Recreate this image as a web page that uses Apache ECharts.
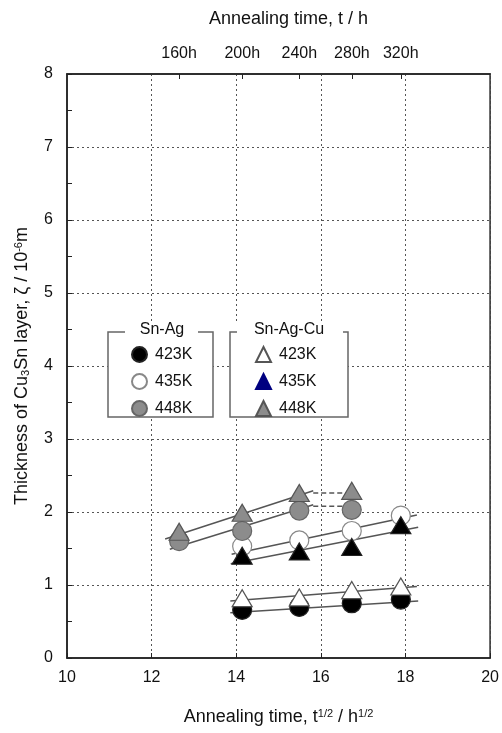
<!DOCTYPE html>
<html>
<head>
<meta charset="utf-8">
<script src="https://cdn.jsdelivr.net/npm/echarts@6/dist/echarts.min.js"></script>
<style>
html,body{margin:0;padding:0;background:#fff;}
#chart{width:502px;height:733px;}
</style>
</head>
<body>
<div id="chart"></div>
<script>
// ---- data ----
const xTicks = [10, 12, 14, 16, 18, 20];
const topHours = [160, 200, 240, 280, 320];
const sqrtTime = [12.65, 14.14, 15.49, 16.73, 17.89];

const snAg423 = [null, 0.66, 0.70, 0.75, 0.80];
const snAg435 = [null, 1.53, 1.61, 1.74, 1.95];
const snAg448 = [1.60, 1.74, 2.02, 2.03, null];
const snAgCu423 = [null, 0.82, 0.83, 0.93, 0.98];
const snAgCu435 = [null, 1.40, 1.46, 1.52, 1.82];
const snAgCu448 = [1.73, 1.99, 2.26, 2.29, null];

const fitSnAg423 = [[13.86, 0.62], [18.30, 0.78]];
const fitSnAg435 = [[13.89, 1.42], [18.27, 1.96]];
const fitSnAg448 = [[12.43, 1.49], [15.82, 2.10]];
const fitSnAgCu423 = [[13.86, 0.78], [18.27, 0.98]];
const fitSnAgCu435 = [[13.87, 1.29], [18.30, 1.79]];
const fitSnAgCu448 = [[12.32, 1.63], [15.82, 2.29]];
const dashSnAg448 = [[15.82, 2.08], [16.62, 2.08]];
const dashSnAgCu448 = [[15.82, 2.26], [16.62, 2.26]];

const legendSnAg = ['Sn-Ag 423K', 'Sn-Ag 435K', 'Sn-Ag 448K'];
const legendSnAgCu = ['Sn-Ag-Cu 423K', 'Sn-Ag-Cu 435K', 'Sn-Ag-Cu 448K'];

// ---- build ----
function pts(vals) {
  const out = [];
  vals.forEach((v, i) => { if (v !== null) out.push([sqrtTime[i], v]); });
  return out;
}
const FONT = 'Liberation Sans';
const gridLine = { show: true, lineStyle: { color: '#555', type: [2, 3], width: 1 } };

function fitLine(data, dashed) {
  return {
    type: 'line', data: data, symbol: 'none', silent: true, z: 1,
    lineStyle: { color: '#555', width: 1.5, type: dashed ? [5, 3] : 'solid' }
  };
}
function marker(name, vals, symbol, fill, border) {
  return {
    type: 'scatter', name: name, data: pts(vals), symbol: symbol,
    symbolSize: symbol === 'circle' ? 19 : [20, 17], z: 3,
    itemStyle: { color: fill, borderColor: border, borderWidth: 1.2, opacity: 1 }
  };
}

const chart = echarts.init(document.getElementById('chart'), null, { renderer: 'canvas' });
const legendCommon = {
  orient: 'vertical', itemWidth: 15, itemHeight: 15, itemGap: 10, padding: 0, z: 10,
  textStyle: { fontFamily: FONT, fontSize: 16, color: '#111', lineHeight: 15, padding: [0, 0, 0, 3] },
  formatter: n => n.split(' ')[1], selectedMode: false
};

chart.setOption({
  animation: false,
  backgroundColor: '#fff',
  grid: { left: 67, right: 11, top: 74, bottom: 75, show: true, borderColor: '#222', borderWidth: 1.5, backgroundColor: 'transparent' },
  xAxis: [{
    type: 'value', min: 10, max: 20, interval: 2, position: 'bottom',
    axisLine: { show: true, lineStyle: { color: '#222', width: 1.5 } },
    axisTick: { show: true, inside: true, length: 5, lineStyle: { color: '#222' } },
    axisLabel: { fontFamily: FONT, fontSize: 16, color: '#111', margin: 12, formatter: v => xTicks.includes(v) ? String(v) : '' },
    splitLine: gridLine,
    name: 'Annealing time, t{sup|1/2} / h{sup|1/2}', nameLocation: 'middle', nameGap: 50,
    nameTextStyle: { fontFamily: FONT, fontSize: 18, color: '#111',
      rich: { sup: { fontFamily: FONT, fontSize: 11, color: '#111', verticalAlign: 'top' } } }
  }, {
    type: 'value', min: 10, max: 20, position: 'top',
    axisLine: { show: true, lineStyle: { color: '#222', width: 1.5 } },
    axisTick: { show: true, inside: true, length: 5, customValues: topHours.map(h => Math.sqrt(h)), lineStyle: { color: '#222' } },
    axisLabel: { fontFamily: FONT, fontSize: 16, color: '#111', margin: 12,
      customValues: topHours.map(h => Math.sqrt(h)), formatter: v => Math.round(v * v) + 'h' },
    splitLine: { show: false },
    name: 'Annealing time, t / h', nameLocation: 'middle', nameGap: 46,
    nameTextStyle: { fontFamily: FONT, fontSize: 18, color: '#111', padding: [0, 0, 0, 20] }
  }],
  yAxis: [{
    type: 'value', min: 0, max: 8, interval: 1,
    axisLine: { show: true, lineStyle: { color: '#222', width: 1.5 } },
    axisTick: { show: true, inside: true, length: 5, lineStyle: { color: '#222' } },
    minorTick: { show: true, splitNumber: 2, length: 5, lineStyle: { color: '#222' } },
    axisLabel: { fontFamily: FONT, fontSize: 16, color: '#111', margin: 14 },
    splitLine: gridLine,
    name: 'Thickness of Cu{sub|3}Sn layer, ζ / 10{sup|-6}m', nameLocation: 'middle', nameGap: 36,
    nameTextStyle: { fontFamily: FONT, fontSize: 18, color: '#111',
      rich: {
        sup: { fontFamily: FONT, fontSize: 11, color: '#111', verticalAlign: 'top' },
        sub: { fontFamily: FONT, fontSize: 11, color: '#111', verticalAlign: 'bottom' }
      } }
  }],
  legend: [
    Object.assign({}, legendCommon, { left: 131, top: 346, data: legendSnAg }),
    Object.assign({}, legendCommon, { left: 255, top: 346, data: [
      legendSnAgCu[0], { name: legendSnAgCu[1], itemStyle: { color: '#000080', borderColor: '#000080' } }, legendSnAgCu[2]
    ] })
  ],
  graphic: [
    { type: 'rect', z: 5, silent: true, shape: { x: 108, y: 322, width: 105, height: 95 }, style: { fill: '#fff' } },
    { type: 'rect', z: 5, silent: true, shape: { x: 230, y: 322, width: 118, height: 95 }, style: { fill: '#fff' } },
    { type: 'polyline', z: 6, silent: true, shape: { points: [[125, 332], [108, 332], [108, 417], [213, 417], [213, 332], [198, 332]] },
      style: { stroke: '#666', lineWidth: 1.5, fill: null } },
    { type: 'polyline', z: 6, silent: true, shape: { points: [[237, 332], [230, 332], [230, 417], [348, 417], [348, 332], [343, 332]] },
      style: { stroke: '#666', lineWidth: 1.5, fill: null } },
    { type: 'text', z: 7, silent: true, x: 162, y: 330, style: { text: 'Sn-Ag', font: '16px "Liberation Sans"', fill: '#111', align: 'center', verticalAlign: 'middle' } },
    { type: 'text', z: 7, silent: true, x: 289, y: 330, style: { text: 'Sn-Ag-Cu', font: '16px "Liberation Sans"', fill: '#111', align: 'center', verticalAlign: 'middle' } }
  ],
  series: [
    fitLine(fitSnAg423), fitLine(fitSnAg435), fitLine(fitSnAg448), fitLine(dashSnAg448, true),
    fitLine(fitSnAgCu423), fitLine(fitSnAgCu435), fitLine(fitSnAgCu448), fitLine(dashSnAgCu448, true),
    marker(legendSnAg[0], snAg423, 'circle', '#000000', '#222'),
    marker(legendSnAg[1], snAg435, 'circle', '#ffffff', '#888'),
    marker(legendSnAg[2], snAg448, 'circle', '#8c8c8c', '#666'),
    marker(legendSnAgCu[0], snAgCu423, 'triangle', '#ffffff', '#555'),
    marker(legendSnAgCu[1], snAgCu435, 'triangle', '#000000', '#222'),
    marker(legendSnAgCu[2], snAgCu448, 'triangle', '#8c8c8c', '#555')
  ]
});
</script>
</body>
</html>
